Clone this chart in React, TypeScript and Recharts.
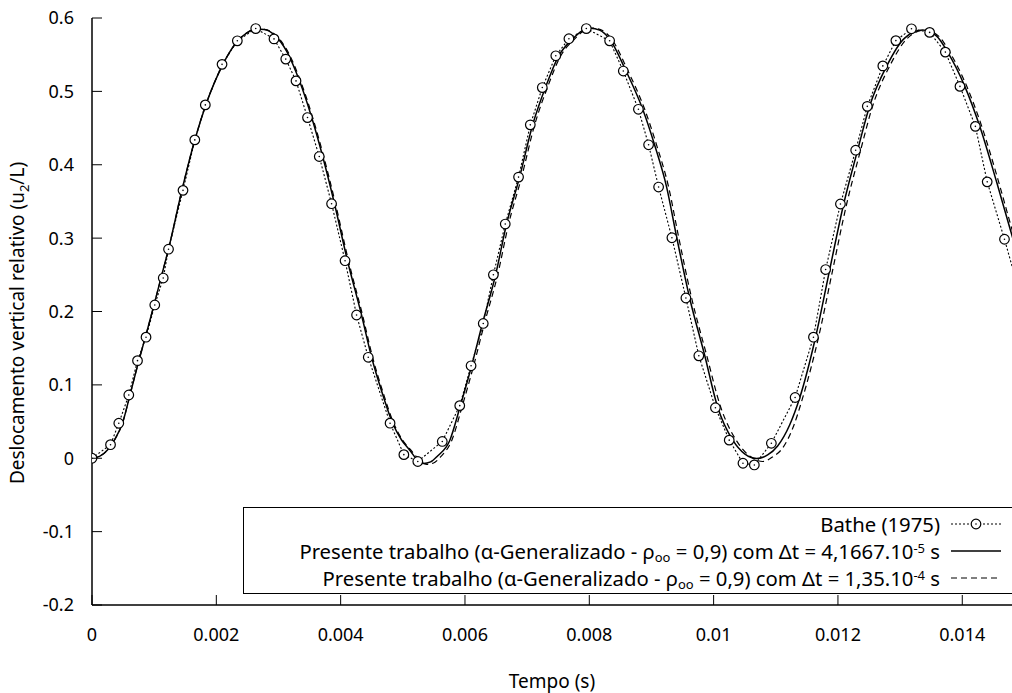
import { LineChart, Line, XAxis, YAxis } from "recharts";

document.body.style.margin = "0";
document.body.style.overflow = "hidden";

const FONT = "'Noto Sans', sans-serif";
const TICK_FS = 18;
const TITLE_FS = 19;
const LEGEND_FS = 20.3;

// axis ticks
const xTicks = [0, 0.002, 0.004, 0.006, 0.008, 0.01, 0.012, 0.014];
const xTickLabels = ["0", "0.002", "0.004", "0.006", "0.008", "0.01", "0.012", "0.014"];
const yTicks = [-0.2, -0.1, 0, 0.1, 0.2, 0.3, 0.4, 0.5, 0.6];
const yTickLabels = ["-0.2", "-0.1", "0", "0.1", "0.2", "0.3", "0.4", "0.5", "0.6"];

// Bathe (1975)
const batheT = [
  0, 0.000298, 0.000431, 0.000592, 0.000732, 0.000869, 0.00101, 0.001146, 0.001231, 0.001464,
  0.001654, 0.001823, 0.002092, 0.002338, 0.002634, 0.002928, 0.003117, 0.003282, 0.003467, 0.003656,
  0.003854, 0.004071, 0.004256, 0.004444, 0.004795, 0.005017, 0.005241, 0.005635, 0.005916, 0.006098,
  0.006294, 0.006457, 0.006648, 0.006862, 0.007051, 0.007244, 0.007461, 0.007672, 0.007952, 0.008327,
  0.008547, 0.00879, 0.008954, 0.009115, 0.009329, 0.009554, 0.009762, 0.010029, 0.010251, 0.010472,
  0.010655, 0.010929, 0.011311, 0.011606, 0.011802, 0.01204, 0.012285, 0.012472, 0.012722, 0.012932,
  0.013183, 0.013475, 0.013728, 0.013963, 0.014211, 0.014401, 0.014679, 0.0149,
];
const batheU = [
  0, 0.0185, 0.0477, 0.0862, 0.133, 0.165, 0.2089, 0.2456, 0.2849, 0.3651,
  0.4339, 0.4816, 0.5368, 0.5689, 0.5856, 0.5715, 0.544, 0.5143, 0.4643, 0.4112,
  0.3469, 0.2692, 0.1952, 0.1376, 0.0478, 0.0049, -0.0044, 0.0229, 0.0717, 0.126,
  0.1837, 0.25, 0.3192, 0.3832, 0.4544, 0.5052, 0.5485, 0.5717, 0.5856, 0.5689,
  0.5277, 0.4756, 0.4272, 0.3696, 0.3005, 0.2184, 0.1396, 0.0689, 0.0247, -0.0068,
  -0.0091, 0.0204, 0.0828, 0.165, 0.2572, 0.3465, 0.4198, 0.4796, 0.5347, 0.5692,
  0.5853, 0.5804, 0.5535, 0.5068, 0.4523, 0.3767, 0.2985, 0.232,
];

// presente trabalho, dt = 4,1667e-5 s (solid)
const fineT = [
  0, 0.000121, 0.000249, 0.000362, 0.000491, 0.000619, 0.000748, 0.000877, 0.001006, 0.001118,
  0.001231, 0.00144, 0.001649, 0.001842, 0.0021, 0.002341, 0.002486, 0.002631, 0.002776, 0.002936,
  0.00313, 0.003339, 0.003532, 0.003709, 0.003902, 0.004111, 0.004336, 0.004497, 0.004674, 0.004835,
  0.00498, 0.005109, 0.005221, 0.005334, 0.005447, 0.005559, 0.005752, 0.005929, 0.006106, 0.006283,
  0.006492, 0.006669, 0.006879, 0.007088, 0.007297, 0.007506, 0.007731, 0.007876, 0.008021, 0.008166,
  0.008327, 0.008584, 0.008858, 0.009051, 0.009244, 0.009405, 0.009614, 0.009855, 0.010064, 0.010306,
  0.010499, 0.010692, 0.010869, 0.01103, 0.011223, 0.011384, 0.011641, 0.011866, 0.012092, 0.012317,
  0.01251, 0.012784, 0.013073, 0.013363, 0.013588, 0.013765, 0.014039, 0.01428, 0.014553, 0.014779,
  0.014924,
];
const fineU = [
  0, 0.0025, 0.0113, 0.0249, 0.0481, 0.089, 0.1312, 0.1707, 0.2116, 0.2484,
  0.2851, 0.3628, 0.4323, 0.4841, 0.5358, 0.5685, 0.5794, 0.5849, 0.5842, 0.5767,
  0.5549, 0.514, 0.465, 0.4119, 0.3465, 0.2688, 0.1952, 0.138, 0.0876, 0.0481,
  0.0249, 0.0113, -0.001, -0.0071, -0.005, 0.0031, 0.0236, 0.0726, 0.1257, 0.1843,
  0.2497, 0.3192, 0.3832, 0.4541, 0.5059, 0.5481, 0.5713, 0.5822, 0.5862, 0.5835,
  0.5713, 0.529, 0.4759, 0.4268, 0.3696, 0.3015, 0.2184, 0.1407, 0.0699, 0.0249,
  0.0059, -0.0003, 0.0045, 0.0168, 0.0454, 0.0822, 0.1653, 0.2565, 0.3465, 0.42,
  0.48, 0.5345, 0.5726, 0.5835, 0.5753, 0.5535, 0.5072, 0.4527, 0.3764, 0.3097,
  0.2674,
];

// presente trabalho, dt = 1,35e-4 s (dashed)
const coarseT = [
  0, 0.000121, 0.000249, 0.000362, 0.000491, 0.000619, 0.000748, 0.000877, 0.001006, 0.001118,
  0.001231, 0.00144, 0.001649, 0.001842, 0.0021, 0.002341, 0.002486, 0.002647, 0.002792, 0.002953,
  0.003146, 0.003355, 0.003548, 0.003725, 0.003918, 0.004127, 0.004352, 0.004513, 0.00469, 0.004851,
  0.004996, 0.005141, 0.005269, 0.005382, 0.005495, 0.005607, 0.005784, 0.005961, 0.006138, 0.006315,
  0.006525, 0.006702, 0.006911, 0.00712, 0.007329, 0.007538, 0.007763, 0.007908, 0.008053, 0.008198,
  0.008359, 0.008616, 0.00889, 0.009083, 0.009276, 0.009437, 0.009646, 0.009887, 0.010113, 0.01037,
  0.010579, 0.010788, 0.010949, 0.01111, 0.011287, 0.011432, 0.011689, 0.011915, 0.01214, 0.012365,
  0.012558, 0.012832, 0.013121, 0.013395, 0.01362, 0.013797, 0.014071, 0.014312, 0.014586, 0.014795,
  0.01494,
];
const coarseU = [
  0, 0.0025, 0.0113, 0.0249, 0.0481, 0.089, 0.1312, 0.1707, 0.2116, 0.2484,
  0.2851, 0.3628, 0.4323, 0.4841, 0.5358, 0.5685, 0.5794, 0.5849, 0.5842, 0.5767,
  0.5549, 0.514, 0.465, 0.4119, 0.3465, 0.2688, 0.1952, 0.138, 0.0876, 0.0481,
  0.0249, 0.0099, -0.0023, -0.0084, -0.0064, 0.0018, 0.0236, 0.0726, 0.1257, 0.1843,
  0.2497, 0.3192, 0.3832, 0.4541, 0.5059, 0.5481, 0.5713, 0.5822, 0.5862, 0.5835,
  0.5713, 0.529, 0.4759, 0.4268, 0.3696, 0.3015, 0.2184, 0.1407, 0.0699, 0.0236,
  0.0031, -0.0044, 0.0018, 0.014, 0.044, 0.0822, 0.1653, 0.2565, 0.3465, 0.42,
  0.48, 0.5345, 0.5726, 0.5835, 0.5753, 0.5535, 0.5072, 0.4527, 0.3764, 0.3134,
  0.2721,
];

const zip = (t: number[], u: number[]) => t.map((v, i) => ({ t: v, u: u[i] }));
const batheData = zip(batheT, batheU);
const fineData = zip(fineT, fineU);
const coarseData = zip(coarseT, coarseU);

const labelOf = (ticks: number[], labels: string[], v: number) => {
  const i = ticks.findIndex((t) => Math.abs(t - v) < 1e-9);
  return i >= 0 ? labels[i] : String(v);
};

const BottomTick = ({ x, y, payload }: any) => (
  <g>
    <line x1={x} x2={x} y1={y} y2={y - 10} stroke="#000" strokeWidth={1} />
    <text x={x} y={y + 36} textAnchor="middle" fontSize={TICK_FS} fill="#000" fontFamily={FONT}>
      {labelOf(xTicks, xTickLabels, payload.value)}
    </text>
  </g>
);

const TopTick = ({ x, y }: any) => (
  <line x1={x} x2={x} y1={y} y2={y + 10} stroke="#000" strokeWidth={1} />
);

const LeftTick = ({ x, y, payload }: any) => (
  <g>
    <line x1={x} x2={x + 10} y1={y} y2={y} stroke="#000" strokeWidth={1} />
    <text x={x - 18} y={y} dy="0.36em" textAnchor="end" fontSize={TICK_FS} fill="#000" fontFamily={FONT}>
      {labelOf(yTicks, yTickLabels, payload.value)}
    </text>
  </g>
);

const YTitle = () => (
  <text
    x={24}
    y={323}
    transform="rotate(-90, 24, 323)"
    textAnchor="middle"
    fontSize={TITLE_FS}
    fill="#000"
    fontFamily={FONT}
  >
    Deslocamento vertical relativo (u
    <tspan fontSize={13} dy={5}>2</tspan>
    <tspan dy={-5}>/L)</tspan>
  </text>
);

const BatheDot = (props: any) => {
  const { cx, cy, index } = props;
  if (cx == null || cy == null) return <g key={index} />;
  return (
    <g key={index}>
      <circle cx={cx} cy={cy} r={4.8} fill="#fff" stroke="#000" strokeWidth={1.2} />
      <circle cx={cx} cy={cy} r={0.8} fill="#000" />
    </g>
  );
};

const LegendRow = ({ children, sample }: any) => (
  <div
    style={{
      height: 27,
      display: "flex",
      justifyContent: "flex-end",
      alignItems: "center",
      paddingRight: 11,
      fontSize: LEGEND_FS,
      lineHeight: "20px",
      whiteSpace: "nowrap",
    }}
  >
    <span>{children}</span>
    <svg width={50} height={12} style={{ marginLeft: 11 }}>
      {sample}
    </svg>
  </div>
);

const subStyle = { fontSize: 13, lineHeight: "13px", position: "relative" as const, top: 3, verticalAlign: "baseline" };
const supStyle = { fontSize: 13, lineHeight: "13px", position: "relative" as const, top: -6, verticalAlign: "baseline" };

export default function App() {
  return (
    <div style={{ position: "relative", width: 1012, height: 693, fontFamily: FONT, color: "#000", background: "#fff" }}>
      <LineChart width={1012} height={693} margin={{ top: 18, right: 0, bottom: 0, left: 0 }}>
        <XAxis
          dataKey="t"
          type="number"
          domain={[0, 0.0148]}
          allowDataOverflow
          ticks={xTicks}
          interval={0}
          height={88}
          tickSize={0}
          tickMargin={0}
          tickLine={false}
          tick={<BottomTick />}
          axisLine={{ stroke: "#000", strokeWidth: 1.5 }}
          label={{ value: "Tempo (s)", position: "insideBottom", offset: 5, fontSize: TITLE_FS, fill: "#000", fontFamily: FONT }}
        />
        <XAxis
          xAxisId="top"
          orientation="top"
          dataKey="t"
          type="number"
          domain={[0, 0.0148]}
          allowDataOverflow
          ticks={xTicks}
          interval={0}
          height={0}
          tickSize={0}
          tickMargin={0}
          tickLine={false}
          tick={<TopTick />}
          axisLine={{ stroke: "#000", strokeWidth: 1.5 }}
        />
        <YAxis
          type="number"
          domain={[-0.2, 0.6]}
          ticks={yTicks}
          interval={0}
          width={92}
          tickSize={0}
          tickMargin={0}
          tickLine={false}
          tick={<LeftTick />}
          axisLine={{ stroke: "#000", strokeWidth: 1.5 }}
          label={<YTitle />}
        />
        <Line
          data={fineData}
          dataKey="u"
          type="monotone"
          stroke="#000"
          strokeWidth={1.5}
          dot={false}
          isAnimationActive={false}
        />
        <Line
          data={coarseData}
          dataKey="u"
          type="monotone"
          stroke="#000"
          strokeWidth={1.2}
          strokeDasharray="6 4"
          dot={false}
          isAnimationActive={false}
        />
        <Line
          data={batheData}
          dataKey="u"
          type="linear"
          stroke="#000"
          strokeWidth={1.1}
          strokeDasharray="2 2"
          dot={BatheDot}
          isAnimationActive={false}
        />
      </LineChart>

      <div
        style={{
          position: "absolute",
          left: 243,
          top: 507,
          width: 769,
          height: 87,
          border: "1px solid #000",
          borderRight: "none",
          boxSizing: "border-box",
          background: "#fff",
          paddingTop: 2,
        }}
      >
        <LegendRow
          sample={
            <g>
              <line x1={0} x2={50} y1={6} y2={6} stroke="#000" strokeWidth={1.1} strokeDasharray="2 2" />
              <circle cx={25} cy={6} r={4.8} fill="#fff" stroke="#000" strokeWidth={1.2} />
              <circle cx={25} cy={6} r={0.8} fill="#000" />
            </g>
          }
        >
          Bathe (1975)
        </LegendRow>
        <LegendRow sample={<line x1={0} x2={50} y1={6} y2={6} stroke="#000" strokeWidth={1.5} />}>
          Presente trabalho (α-Generalizado - ρ<span style={subStyle}>oo</span> = 0,9) com Δt = 4,1667.10
          <span style={supStyle}>-5</span> s
        </LegendRow>
        <LegendRow
          sample={<line x1={0} x2={50} y1={6} y2={6} stroke="#000" strokeWidth={1.2} strokeDasharray="6 4" />}
        >
          Presente trabalho (α-Generalizado - ρ<span style={subStyle}>oo</span> = 0,9) com Δt = 1,35.10
          <span style={supStyle}>-4</span> s
        </LegendRow>
      </div>
    </div>
  );
}
